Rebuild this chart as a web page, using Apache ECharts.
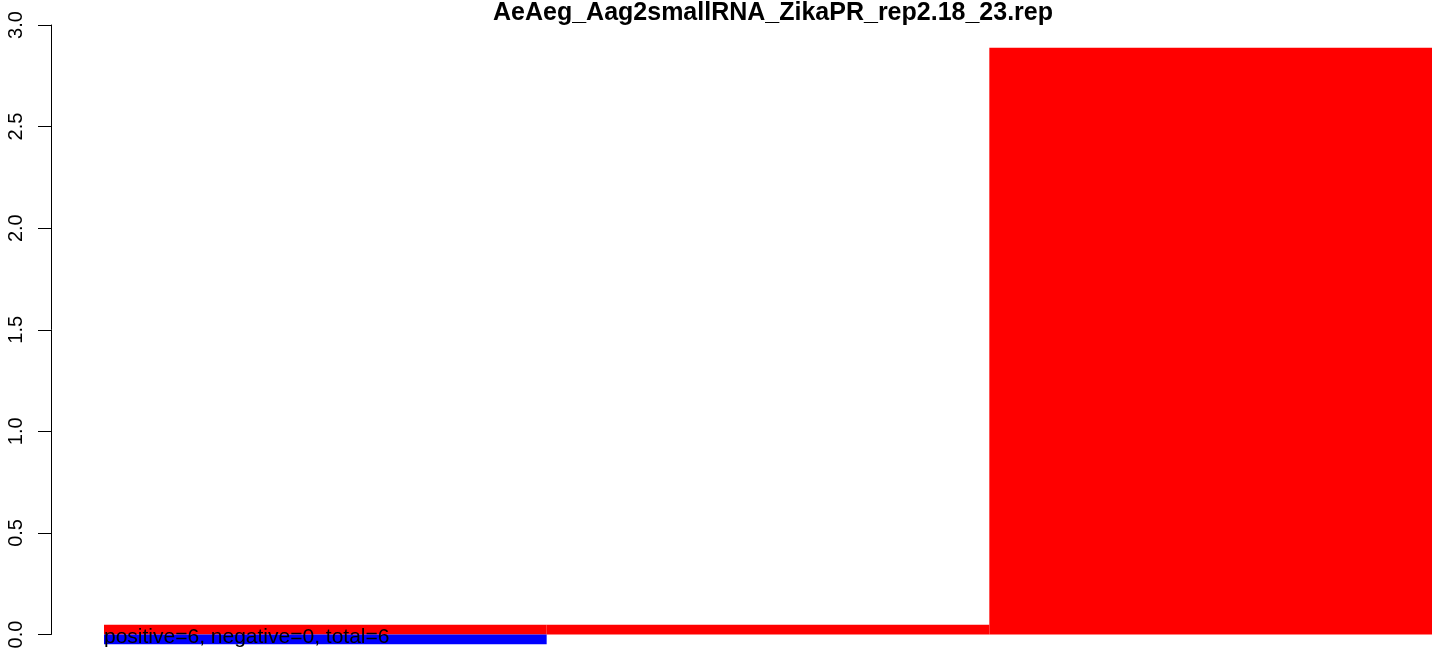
<!DOCTYPE html>
<html>
<head>
<meta charset="utf-8">
<script src="https://cdn.jsdelivr.net/npm/echarts@6/dist/echarts.min.js"></script>
<style>
  html, body { margin: 0; padding: 0; background: #ffffff; }
  #chart { width: 1444px; height: 656px; }
</style>
</head>
<body>
<div id="chart"></div>
<script>
const titleText = 'AeAeg_Aag2smallRNA_ZikaPR_rep2.18_23.rep';
const noteText = 'positive=6, negative=0, total=6';
const categories = ['1', '2', '3'];
const positiveValues = [0.048, 0.048, 2.888];
const negativeValues = [-0.048, 0, 0];
const yTicks = [0, 0.5, 1, 1.5, 2, 2.5, 3];

const chart = echarts.init(document.getElementById('chart'), null, { renderer: 'canvas' });
const fontFamily = '"Liberation Sans", Arial, Helvetica, sans-serif';

chart.setOption({
  animation: false,
  backgroundColor: '#ffffff',
  title: {
    text: titleText,
    left: 768,
    textAlign: 'center',
    top: -4,
    textStyle: { fontFamily: fontFamily, fontWeight: 'bold', fontSize: 25, color: '#000000' }
  },
  grid: { left: 104, right: 12, top: 25, bottom: 21.5 },
  xAxis: {
    type: 'category',
    data: categories,
    show: false,
    boundaryGap: true
  },
  yAxis: {
    type: 'value',
    min: 0,
    max: 3,
    interval: 0.5,
    offset: 53,
    splitLine: { show: false },
    axisLine: { show: true, lineStyle: { color: '#000000', width: 1 } },
    axisTick: { show: true, inside: false, length: 13, lineStyle: { color: '#000000', width: 1 } },
    axisLabel: {
      rotate: 90,
      margin: 25,
      fontFamily: fontFamily,
      fontSize: 20,
      color: '#000000',
      formatter: function (v) { return yTicks.indexOf(v) >= 0 ? v.toFixed(1) : ''; }
    }
  },
  series: [
    {
      type: 'bar',
      data: positiveValues,
      barWidth: '100%',
      barGap: '-100%',
      barCategoryGap: 0,
      clip: false,
      z: 2,
      itemStyle: { color: '#ff0000' }
    },
    {
      type: 'bar',
      data: negativeValues,
      barWidth: '100%',
      barGap: '-100%',
      barCategoryGap: 0,
      clip: false,
      z: 2,
      itemStyle: { color: '#0000ff' }
    }
  ],
  graphic: [
    {
      type: 'text',
      left: 104,
      top: 627,
      z: 100,
      silent: true,
      style: {
        text: noteText,
        fontFamily: fontFamily,
        fontSize: 21,
        fill: '#000000'
      }
    }
  ]
});
</script>
</body>
</html>
